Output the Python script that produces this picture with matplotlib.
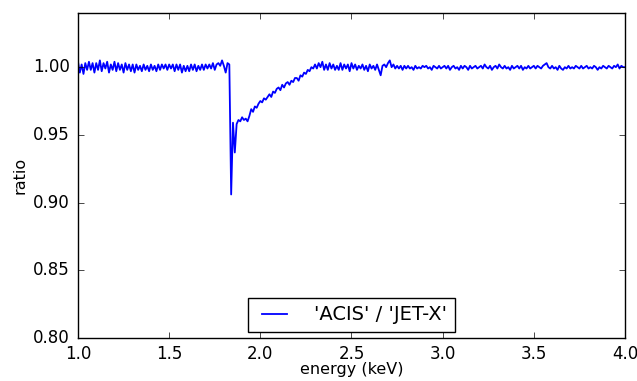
import numpy as np
import matplotlib
matplotlib.use("Agg")
import matplotlib.pyplot as plt

plt.style.use("classic")

e_start = 1.0
e_step = 0.01
ratio = [
    # 1.00 - 1.09
    1.004, 0.996, 1.002, 0.995, 1.003, 0.998, 1.004, 0.998, 1.003, 0.996,
    1.003, 0.998, 1.005, 0.997, 1.003, 0.999, 1.004, 0.996, 1.002, 0.998,
    1.004, 0.997, 1.003, 0.998, 1.002, 0.996, 1.003, 0.998, 1.002, 0.997,
    1.002, 0.996, 1.002, 0.998, 1.001, 0.997, 1.002, 0.998, 1.001, 0.997,
    1.002, 0.998, 1.001, 0.997, 1.002, 0.998, 1.002, 0.999, 1.002, 0.998,
    1.002, 0.999, 1.002, 0.997, 1.002, 0.998, 1.002, 0.996, 1.001, 0.997,
    1.001, 0.997, 1.002, 0.998, 1.002, 0.997, 1.001, 0.998, 1.002, 0.998,
    1.002, 0.999, 1.002, 0.999, 1.003, 0.998, 1.002, 1.003, 1.001, 1.005,
    # 1.80 - 1.89
    1.001, 0.996, 1.003, 1.002, 0.906, 0.959, 0.937, 0.958, 0.961, 0.960,
    0.963, 0.961, 0.962, 0.960, 0.964, 0.969, 0.967, 0.971, 0.970, 0.973,
    # 2.00 - 2.09
    0.975, 0.974, 0.977, 0.976, 0.978, 0.980, 0.978, 0.982, 0.981, 0.984,
    0.985, 0.983, 0.987, 0.985, 0.988, 0.989, 0.987, 0.990, 0.989, 0.992,
    0.992, 0.990, 0.994, 0.993, 0.996, 0.995, 0.998, 0.997, 1.000, 0.999,
    1.002, 0.999, 1.003, 1.000, 1.004, 0.998, 1.002, 0.998, 1.003, 0.999,
    1.002, 0.998, 1.001, 0.998, 1.003, 0.998, 1.002, 0.999, 1.002, 0.997,
    1.003, 0.999, 1.002, 0.998, 1.001, 0.999, 1.002, 0.998, 1.001, 0.997,
    1.002, 0.999, 1.001, 0.998, 1.002, 0.998, 0.994, 1.001, 1.002, 1.000,
    1.003, 1.005, 1.000, 1.002, 0.999, 1.001, 0.999, 1.001, 0.998, 1.001,
    0.999, 1.001, 0.999, 1.000, 0.998, 1.001, 0.999, 1.000, 0.999, 1.001,
    1.000, 1.001, 0.999, 1.000, 0.998, 1.001, 1.000, 0.999, 1.001, 0.999,
    # 3.00 - 3.09
    1.000, 1.001, 0.999, 1.001, 0.998, 1.000, 1.001, 0.999, 1.000, 0.998,
    1.001, 0.999, 1.001, 1.000, 0.998, 1.001, 0.999, 1.000, 1.001, 0.999,
    1.000, 1.001, 0.999, 1.002, 1.000, 0.999, 1.001, 0.998, 1.000, 1.001,
    0.999, 1.002, 1.000, 0.999, 1.001, 0.999, 1.000, 0.998, 1.001, 0.999,
    1.000, 1.001, 0.999, 1.001, 0.998, 1.000, 0.999, 1.001, 0.999, 1.000,
    1.001, 0.999, 1.001, 1.000, 0.999, 1.001, 1.002, 1.003, 1.000, 0.999,
    1.001, 0.999, 1.000, 0.998, 1.001, 0.999, 0.998, 1.000, 0.999, 1.001,
    0.999, 1.000, 0.999, 1.001, 1.000, 0.999, 1.001, 0.999, 1.000, 1.001,
    0.999, 1.000, 0.999, 1.001, 1.000, 0.998, 1.000, 0.999, 1.001, 1.000,
    0.999, 1.001, 1.000, 0.999, 1.001, 1.000, 1.002, 0.999, 1.001, 1.000,
    # 4.00
    1.000,
]
energy = np.round(e_start + e_step * np.arange(len(ratio)), 3)

label = "'ACIS' / 'JET-X'"
x_ticks = [1.0, 1.5, 2.0, 2.5, 3.0, 3.5, 4.0]
y_ticks = [0.80, 0.85, 0.90, 0.95, 1.00]

fig = plt.figure(figsize=(6.37, 3.81), dpi=100, facecolor="white")
ax = fig.add_axes([78 / 637, 1 - 338 / 381, (625 - 78) / 637, (338 - 13) / 381])
ax.plot(energy, ratio, color="#0000ff", lw=1.3, label=label)
ax.set_xlim(1.0, 4.0)
ax.set_ylim(0.80, 1.04)
ax.set_xticks(x_ticks)
ax.set_yticks(y_ticks)
ax.set_xticklabels([f"{t:.1f}" for t in x_ticks])
ax.set_yticklabels([f"{t:.2f}" for t in y_ticks])
ax.tick_params(labelsize=12, direction="in", top=True, right=True)
ax.tick_params(axis="x", pad=5)
ax.tick_params(axis="y", pad=6)
ax.set_xlabel("energy (keV)", fontsize=11.5, labelpad=-1)
ax.set_ylabel("ratio", fontsize=11.5, labelpad=4)
leg = ax.legend(loc="lower center", fontsize=14, frameon=True, fancybox=False,
                handlelength=1.9, borderpad=0.4, borderaxespad=0.3, handletextpad=1.1)
leg.get_frame().set_edgecolor("black")
fig.savefig("out.png", dpi=100, facecolor="white")
